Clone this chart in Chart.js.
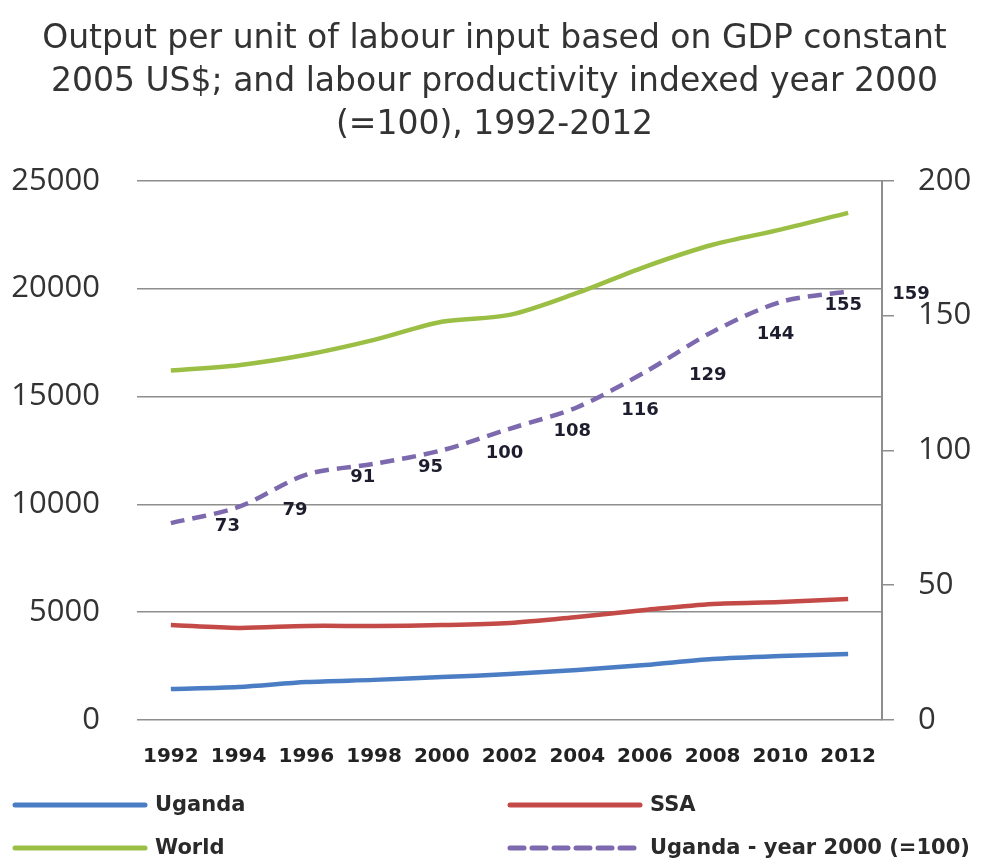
<!DOCTYPE html>
<html>
<head>
<meta charset="utf-8">
<script src="https://cdn.jsdelivr.net/npm/chart.js@4.4.1/dist/chart.umd.min.js"></script>
<style>
  html, body { margin: 0; padding: 0; background: #fff; }
  .chart-container { width: 989px; height: 864px; }
</style>
</head>
<body>
<div class="chart-container">
  <canvas id="myChart" width="989" height="864"></canvas>
</div>
<script>
// data
const years = ['1992', '1994', '1996', '1998', '2000', '2002', '2004', '2006', '2008', '2010', '2012'];
const uganda = [1440, 1530, 1760, 1860, 1990, 2130, 2320, 2550, 2830, 2970, 3060];
const ssa = [4400, 4270, 4360, 4360, 4400, 4500, 4780, 5100, 5380, 5470, 5610];
const world = [16200, 16450, 16930, 17620, 18460, 18780, 19800, 21010, 22030, 22730, 23510];
const ugandaIndex = [73, 79, 91, 95, 100, 108, 116, 129, 144, 155, 159];
const leftTicks = [0, 5000, 10000, 15000, 20000, 25000];
const rightTicks = [0, 50, 100, 150, 200];
const titleLines = [
    'Output per unit of labour input based on GDP constant',
    '2005 US$; and labour productivity indexed year 2000',
    '(=100), 1992-2012'
];

// value labels next to the index line points
const indexLabels = {
    id: 'indexLabels',
    afterDatasetsDraw(chart) {
        const ctx = chart.ctx;
        const meta = chart.getDatasetMeta(3);
        ctx.save();
        ctx.font = 'bold 18px "DejaVu Sans"';
        ctx.fillStyle = '#1d1d2e';
        ctx.textAlign = 'left';
        ctx.textBaseline = 'middle';
        meta.data.forEach((pt, i) => {
            ctx.fillText(String(ugandaIndex[i]), pt.x + 44, pt.y + 3);
        });
        ctx.restore();
    }
};

// two column legend under the axis
const gridLegend = {
    id: 'gridLegend',
    afterDraw(chart) {
        const ctx = chart.ctx;
        const cols = [15, 510];
        const rows = [805, 848];
        const order = [0, 1, 2, 3]; // Uganda, SSA / World, index
        ctx.save();
        order.forEach((di, k) => {
            const ds = chart.data.datasets[di];
            const x = cols[k % 2];
            const y = rows[Math.floor(k / 2)];
            ctx.beginPath();
            ctx.strokeStyle = ds.borderColor;
            ctx.lineWidth = 5;
            ctx.lineCap = 'round';
            ctx.setLineDash(ds.borderDash || []);
            ctx.moveTo(x, y);
            ctx.lineTo(x + 130, y);
            ctx.stroke();
            ctx.setLineDash([]);
            ctx.font = 'bold 21px "DejaVu Sans"';
            ctx.fillStyle = '#2a2a2a';
            ctx.textAlign = 'left';
            ctx.textBaseline = 'middle';
            ctx.fillText(ds.label, x + 140, y + 1);
        });
        ctx.restore();
    }
};

const chartData = {
    labels: years,
    datasets: [
        {
            label: 'Uganda',
            data: uganda,
            borderColor: '#4a7dc4',
            borderWidth: 4.5,
            yAxisID: 'y'
        },
        {
            label: 'SSA',
            data: ssa,
            borderColor: '#c44a47',
            borderWidth: 4.5,
            yAxisID: 'y'
        },
        {
            label: 'World',
            data: world,
            borderColor: '#9bbf45',
            borderWidth: 4.5,
            yAxisID: 'y'
        },
        {
            label: 'Uganda - year 2000 (=100)',
            data: ugandaIndex,
            borderColor: '#7d69ad',
            borderWidth: 4.5,
            borderDash: [14, 8],
            yAxisID: 'y1'
        }
    ]
};

const chartOptions = {
    responsive: false,
    animation: false,
    elements: {
        point: { radius: 0 },
        line: { tension: 0.3, fill: false }
    },
    layout: {
        padding: { left: 0, right: 0, top: 0, bottom: 84 }
    },
    plugins: {
        legend: { display: false },
        tooltip: { enabled: false },
        title: {
            display: true,
            text: titleLines,
            color: '#333',
            font: { family: '"DejaVu Sans"', size: 33, weight: 'normal', lineHeight: 1.3 },
            padding: { top: 18, bottom: 34 }
        }
    },
    scales: {
        x: {
            offset: true,
            grid: { display: false, drawTicks: false },
            border: { display: false },
            ticks: {
                color: '#222',
                font: { family: '"DejaVu Sans"', size: 20, weight: 'bold' },
                padding: 25,
                maxRotation: 0,
                autoSkip: false
            },
            afterFit: s => { s.height = 60; }
        },
        y: {
            position: 'left',
            min: 0,
            max: 25000,
            afterBuildTicks: s => { s.ticks = leftTicks.map(v => ({ value: v })); },
            grid: { color: '#8e8e8e', lineWidth: 1.5, drawTicks: false },
            border: { display: false },
            ticks: {
                color: '#333',
                font: { family: '"Open Sans"', size: 31 },
                padding: 37,
                callback: v => String(v)
            },
            afterFit: s => { s.width = 137; }
        },
        y1: {
            position: 'right',
            min: 0,
            max: 200,
            afterBuildTicks: s => { s.ticks = rightTicks.map(v => ({ value: v })); },
            grid: { drawOnChartArea: false, color: '#8e8e8e', lineWidth: 1.5, tickLength: 12 },
            border: { display: true, color: '#8e8e8e', width: 2 },
            ticks: {
                color: '#333',
                font: { family: '"Open Sans"', size: 31 },
                padding: 24,
                callback: v => String(v)
            },
            afterFit: s => { s.width = 107; }
        }
    }
};

const ctx = document.getElementById('myChart').getContext('2d');
new Chart(ctx, {
    type: 'line',
    data: chartData,
    options: chartOptions,
    plugins: [indexLabels, gridLegend]
});
</script>
</body>
</html>
